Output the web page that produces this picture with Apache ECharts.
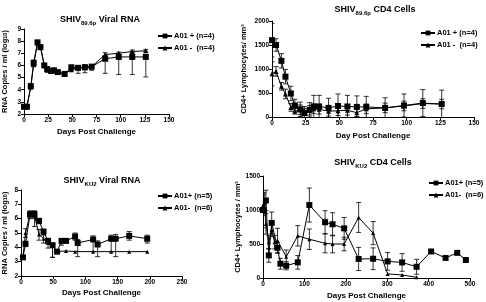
<!DOCTYPE html>
<html>
<head>
<meta charset="utf-8">
<script src="https://cdn.jsdelivr.net/npm/echarts@6/dist/echarts.min.js"></script>
<style>
html, body { margin: 0; padding: 0; background: #fff; }
#chart { width: 486px; height: 302px; }
</style>
</head>
<body>
<div id="chart"></div>
<script>
// SHIV89.6p viral RNA (log10 copies/ml)
var rnaDays89 = [0, 3, 7, 10, 14, 17, 21, 24, 28, 31, 35, 42, 49, 56, 63, 70, 84, 98, 112, 126];
var rnaPos89 = [2.6, 2.6, 4.3, 6.2, 7.9, 7.5, 6.0, 5.7, 5.55, 5.6, 5.45, 5.3, 5.85, 5.8, 5.85, 5.9, 6.55, 6.7, 6.7, 6.7];
var rnaPos89Lo = [0, 0, 0.15, 0.3, 0.1, 0.15, 0.1, 0.15, 0.1, 0.1, 0.1, 0.15, 0.15, 0.45, 0.45, 0.3, 1.2, 1.45, 1.45, 1.65];
var rnaPos89Hi = [0, 0, 0.1, 0.25, 0.1, 0.1, 0.1, 0.1, 0.1, 0.1, 0.05, 0.1, 0.1, 0.2, 0.2, 0.15, 0.2, 0.2, 0.2, 0.2];
var rnaNeg89 = [2.6, 2.6, 4.2, 6.1, 7.85, 7.6, 6.0, 5.6, 5.5, 5.55, 5.45, 5.3, 5.65, 5.8, 5.8, 5.9, 6.9, 7.0, 7.15, 7.2];
var rnaNeg89Lo = [0, 0, 0.1, 0.2, 0.1, 0.1, 0.1, 0.1, 0.1, 0.1, 0.1, 0.1, 0.1, 0.1, 0.1, 0.1, 0.1, 0.1, 0.1, 0.1];
var rnaNeg89Hi = [0, 0, 0.1, 0.25, 0.1, 0.1, 0.1, 0.1, 0.1, 0.1, 0.1, 0.1, 0.1, 0.15, 0.15, 0.15, 0.15, 0.1, 0.12, 0.12];

// SHIV89.6p CD4 cells / mm3
var cd4Days89 = [0, 3, 7, 10, 14, 17, 21, 24, 28, 31, 35, 42, 49, 56, 63, 70, 84, 98, 112, 126];
var cd4Pos89 = [1600, 1500, 1170, 840, 490, 240, 160, 80, 150, 220, 220, 190, 230, 220, 210, 210, 190, 240, 290, 270];
var cd4Pos89Err = [350, 130, 150, 150, 150, 130, 150, 100, 150, 230, 230, 200, 250, 230, 230, 220, 210, 240, 280, 290];
var cd4Neg89 = [900, 950, 640, 480, 200, 120, 150, 140, 140, 170, 160, 120, 130, 140, 90, 170, 190, 230, 280, 270];
var cd4Neg89Err = [250, 100, 80, 100, 80, 60, 100, 80, 100, 100, 100, 100, 100, 100, 80, 100, 100, 100, 100, 100];

// SHIVKU2 viral RNA
var rnaDaysKuPos = [3, 7, 14, 21, 28, 35, 42, 49, 56, 63, 70, 84, 88, 112, 119, 140, 147, 168, 196];
var rnaPosKu = [3.3, 4.25, 6.3, 6.3, 5.85, 5.1, 4.45, 4.15, 3.7, 4.45, 4.45, 4.75, 4.3, 4.55, 4.2, 4.6, 4.6, 4.8, 4.6];
var rnaPosKuLo = [0, 0.2, 0.25, 0.3, 0.2, 0.25, 0.2, 0.85, 0.05, 0.3, 0.1, 0.25, 0.95, 0.85, 0.85, 0.9, 1.25, 0.3, 0.3];
var rnaPosKuHi = [0, 0.15, 0.25, 0.25, 0.1, 0.15, 0.15, 0.1, 0.05, 0.15, 0.1, 0.25, 0.25, 0.25, 0.25, 0.25, 0.3, 0.3, 0.25];
var rnaDaysKuNeg = [3, 7, 14, 21, 28, 35, 42, 49, 56, 70, 84, 112, 140, 168, 196];
var rnaNegKu = [3.3, 5.0, 6.3, 6.2, 4.9, 4.6, 4.3, 4.1, 3.7, 3.75, 3.7, 3.7, 3.7, 3.7, 3.7];
var rnaNegKuLo = [0, 0.3, 0.3, 0.75, 0.4, 0.3, 0.35, 0.8, 0, 0, 0, 0, 0, 0, 0];
var rnaNegKuHi = [0, 0.3, 0.2, 0.3, 0.35, 0.3, 0.2, 0.15, 0, 0, 0, 0, 0, 0, 0];

// SHIVKU2 CD4 cells / mm3
var cd4DaysKuPos = [0, 7, 14, 21, 35, 42, 56, 84, 112, 150, 168, 196, 231, 266, 301, 336, 371, 406, 441, 469, 490];
var cd4PosKu = [1000, 1140, 332, 810, 444, 210, 180, 230, 1073, 820, 790, 730, 280, 283, 244, 229, 165, 390, 295, 370, 265];
var cd4PosKuErr = [260, 150, 100, 160, 80, 80, 60, 100, 250, 170, 170, 160, 170, 160, 130, 130, 110, 0, 0, 0, 0];
var cd4DaysKuNeg = [0, 3, 7, 14, 21, 28, 35, 56, 84, 112, 150, 168, 196, 231, 266, 301, 336, 371];
var cd4NegKu = [1070, 1100, 795, 527, 707, 527, 551, 312, 620, 570, 510, 500, 500, 890, 660, 60, 45, 10];
var cd4NegKuErr = [150, 150, 150, 100, 100, 100, 180, 100, 150, 150, 140, 130, 100, 220, 170, 0, 0, 0];

var FONT = "'Liberation Sans', Arial, sans-serif";

function pairs(xs, ys) {
	return xs.map(function (x, i) { return [x, ys[i]]; });
}

function lineSeries(name, idx, xs, ys, symbol, size) {
	return {
		name: name,
		type: 'line',
		xAxisIndex: idx,
		yAxisIndex: idx,
		data: pairs(xs, ys),
		symbol: symbol,
		symbolSize: size,
		showSymbol: true,
		itemStyle: { color: '#000' },
		lineStyle: { color: '#000', width: 1 },
		animation: false,
		z: 3
	};
}

function errSeries(idx, xs, ys, lo, hi) {
	var data = [];
	xs.forEach(function (x, i) {
		if (lo[i] > 0 || hi[i] > 0) {
			data.push([x, ys[i] - lo[i], ys[i] + hi[i]]);
		}
	});
	return {
		name: 'err' + idx,
		type: 'custom',
		xAxisIndex: idx,
		yAxisIndex: idx,
		data: data,
		clip: true,
		animation: false,
		encode: { x: 0, y: [1, 2] },
		renderItem: function (params, api) {
			var p1 = api.coord([api.value(0), api.value(1)]);
			var p2 = api.coord([api.value(0), api.value(2)]);
			var w = 2.5;
			var st = { stroke: '#000', lineWidth: 0.8 };
			return {
				type: 'group',
				children: [
					{ type: 'line', shape: { x1: p1[0], y1: p1[1], x2: p2[0], y2: p2[1] }, style: st },
					{ type: 'line', shape: { x1: p1[0] - w, y1: p1[1], x2: p1[0] + w, y2: p1[1] }, style: st },
					{ type: 'line', shape: { x1: p2[0] - w, y1: p2[1], x2: p2[0] + w, y2: p2[1] }, style: st }
				]
			};
		}
	};
}

function xAxis(idx, max, interval, name, gap) {
	return {
		gridIndex: idx,
		type: 'value',
		min: 0,
		max: max,
		interval: interval,
		name: name,
		nameLocation: 'middle',
		nameGap: gap,
		nameTextStyle: { fontFamily: FONT, fontSize: 8, fontWeight: 'bold', color: '#000' },
		axisLine: { onZero: false, lineStyle: { color: '#000', width: 1 } },
		axisTick: { inside: false, length: 3, lineStyle: { color: '#000' } },
		axisLabel: { fontFamily: FONT, fontSize: 6.5, fontWeight: 'bold', color: '#000', margin: 3 },
		splitLine: { show: false }
	};
}

function yAxis(idx, min, max, interval, name, gap) {
	return {
		gridIndex: idx,
		type: 'value',
		min: min,
		max: max,
		interval: interval,
		name: name,
		nameLocation: 'middle',
		nameGap: gap,
		nameRotate: 90,
		nameTextStyle: {
			fontFamily: FONT, fontSize: 7.5, fontWeight: 'bold', color: '#000',
			rich: { s: { fontFamily: FONT, fontSize: 5.5, fontWeight: 'bold', color: '#000' } }
		},
		axisLine: { onZero: false, lineStyle: { color: '#000', width: 1 } },
		axisTick: { inside: false, length: 3, lineStyle: { color: '#000' } },
		axisLabel: {
			fontFamily: FONT, fontSize: 6.5, fontWeight: 'bold', color: '#000', margin: 3,
			formatter: function (v) { return String(v); }
		},
		splitLine: { show: false }
	};
}

function title(main, sub, rest, x, y) {
	return {
		text: '{a|' + main + '}{s|' + sub + '}{a|' + rest + '}',
		left: x,
		top: y,
		textAlign: 'center',
		textStyle: {
			rich: {
				a: { fontFamily: FONT, fontSize: 9, fontWeight: 'bold', color: '#000', lineHeight: 12, verticalAlign: 'middle' },
				s: { fontFamily: FONT, fontSize: 6, fontWeight: 'bold', color: '#000', lineHeight: 12, verticalAlign: 'bottom', padding: [4, 0, 0, 0] }
			}
		}
	};
}

function legend(names, x, y) {
	return {
		data: names,
		left: x,
		top: y,
		orient: 'vertical',
		itemWidth: 14,
		itemHeight: 6,
		itemGap: 4,
		padding: 0,
		textStyle: { fontFamily: FONT, fontSize: 7.5, fontWeight: 'bold', color: '#000', padding: [0, 0, 0, -3] },
		selectedMode: false
	};
}

var pos89 = 'A01 + (n=4)';
var neg89 = 'A01 -  (n=4)';
var posKu = 'A01+ (n=5)';
var negKu = 'A01-  (n=6)';

var chart = echarts.init(document.getElementById('chart'));
var option = {
	backgroundColor: '#fff',
	animation: false,
	title: [
		title('SHIV', '89.6p', ' Viral RNA', 95, 9),
		title('SHIV', '89.6p', ' CD4 Cells', 370, -1),
		title('SHIV', 'KU2', ' Viral RNA', 97, 170),
		title('SHIV', 'KU2', ' CD4 Cells', 368, 152)
	],
	legend: [
		legend([pos89, neg89], 157, 32),
		legend([pos89, neg89], 420, 29),
		legend([posKu, negKu], 157, 192),
		legend([posKu, negKu], 428, 179)
	],
	grid: [
		{ left: 19, top: 29, width: 150, height: 85 },
		{ left: 272, top: 21, width: 202, height: 96 },
		{ left: 21, top: 190, width: 161, height: 86 },
		{ left: 263, top: 176, width: 207, height: 102 }
	],
	xAxis: [
		xAxis(0, 150, 25, 'Days Post Challenge', 14),
		xAxis(1, 150, 25, 'Day Post Challenge', 15),
		xAxis(2, 250, 50, 'Days Post Challenge', 13),
		xAxis(3, 500, 100, 'Days Post Challenge', 14)
	],
	yAxis: [
		yAxis(0, 2, 9, 1, 'RNA Copies / ml (log{s|10})', 15),
		yAxis(1, 0, 2000, 500, 'CD4+ Lymphocytes/ mm\u00b3', 24),
		yAxis(2, 2, 8, 1, 'RNA Copies / ml (log{s|10})', 12),
		yAxis(3, 0, 1500, 500, 'CD4+ Lymphocytes / mm\u00b3', 21)
	],
	series: [
		errSeries(0, rnaDays89, rnaPos89, rnaPos89Lo, rnaPos89Hi),
		errSeries(0, rnaDays89, rnaNeg89, rnaNeg89Lo, rnaNeg89Hi),
		lineSeries(pos89, 0, rnaDays89, rnaPos89, 'rect', 6),
		lineSeries(neg89, 0, rnaDays89, rnaNeg89, 'triangle', 5),

		errSeries(1, cd4Days89, cd4Pos89, cd4Pos89Err, cd4Pos89Err),
		errSeries(1, cd4Days89, cd4Neg89, cd4Neg89Err, cd4Neg89Err),
		lineSeries(pos89, 1, cd4Days89, cd4Pos89, 'rect', 6),
		lineSeries(neg89, 1, cd4Days89, cd4Neg89, 'triangle', 5),

		errSeries(2, rnaDaysKuPos, rnaPosKu, rnaPosKuLo, rnaPosKuHi),
		errSeries(2, rnaDaysKuNeg, rnaNegKu, rnaNegKuLo, rnaNegKuHi),
		lineSeries(posKu, 2, rnaDaysKuPos, rnaPosKu, 'rect', 6),
		lineSeries(negKu, 2, rnaDaysKuNeg, rnaNegKu, 'triangle', 4),

		errSeries(3, cd4DaysKuPos, cd4PosKu, cd4PosKuErr, cd4PosKuErr),
		errSeries(3, cd4DaysKuNeg, cd4NegKu, cd4NegKuErr, cd4NegKuErr),
		lineSeries(posKu, 3, cd4DaysKuPos, cd4PosKu, 'rect', 6),
		lineSeries(negKu, 3, cd4DaysKuNeg, cd4NegKu, 'triangle', 4)
	]
};
chart.setOption(option);
</script>
</body>
</html>
